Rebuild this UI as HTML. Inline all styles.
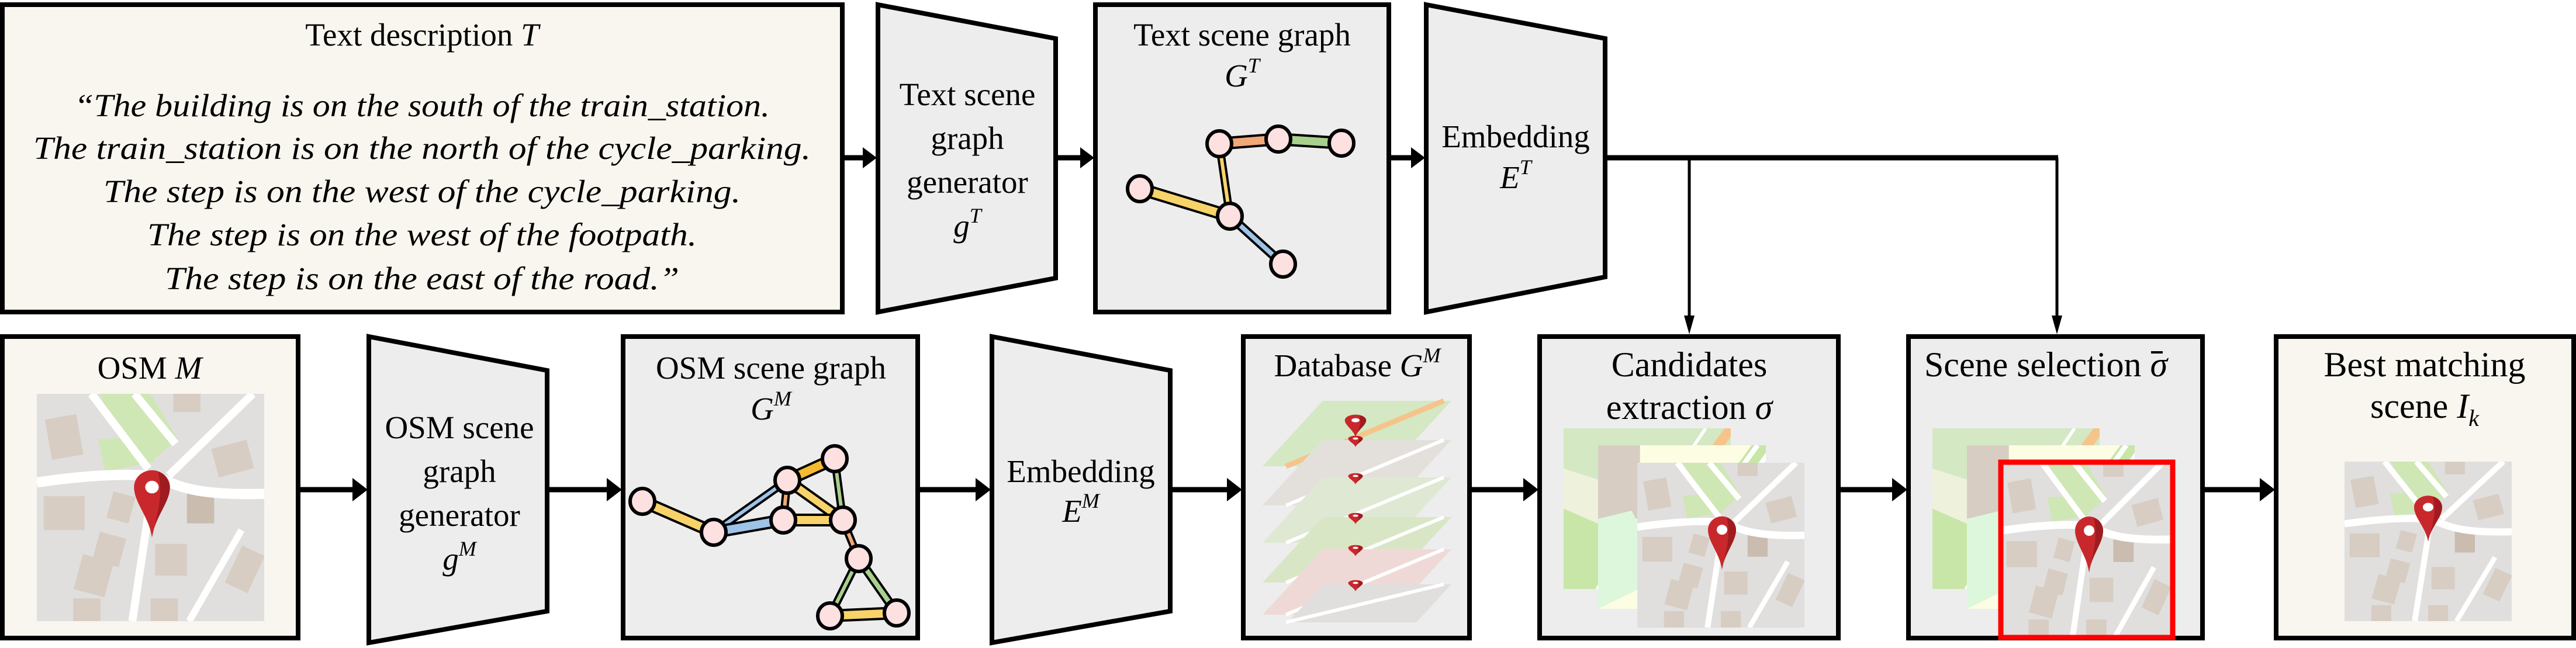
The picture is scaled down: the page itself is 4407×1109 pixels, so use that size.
<!DOCTYPE html>
<html><head><meta charset="utf-8"><style>
html,body{margin:0;padding:0;background:#fff;}
svg{display:block;}
text{font-family:"Liberation Serif",serif;fill:#000;}
</style></head><body>
<svg id="fig" width="4407" height="1109" viewBox="0 0 4407 1109">
<defs>
<symbol id="mapGray" viewBox="0 0 100 100" preserveAspectRatio="none">
<rect width="100" height="100" fill="#e0dfde"/>
<polygon points="28,0 50,0 62,20 50,30 34,16" fill="#cfe7b4"/>
<polygon points="27,20 42,19 52,30 30,34" fill="#cfe7b4"/>
<rect x="5" y="10" width="14" height="18" fill="#d8cdc3" transform="rotate(-10 12 19)"/>
<rect x="78" y="22" width="16" height="13" fill="#d8cdc3" transform="rotate(-15 86 28)"/>
<rect x="3" y="45" width="18" height="15" fill="#d8cdc3"/>
<rect x="32" y="44" width="10" height="12" fill="#d8cdc3" transform="rotate(15 37 50)"/>
<rect x="26" y="62" width="12" height="13" fill="#d8cdc3" transform="rotate(15 32 68)"/>
<rect x="18" y="72" width="14" height="16" fill="#d8cdc3" transform="rotate(15 25 80)"/>
<rect x="52" y="66" width="14" height="14" fill="#d8cdc3"/>
<rect x="66" y="42" width="12" height="15" fill="#cbbcb0"/>
<rect x="86" y="68" width="11" height="18" fill="#d8cdc3" transform="rotate(25 91 77)"/>
<rect x="60" y="0" width="12" height="8" fill="#d8cdc3"/>
<rect x="16" y="90" width="12" height="10" fill="#d8cdc3"/>
<rect x="50" y="90" width="12" height="10" fill="#d8cdc3"/>
<path d="M24,0 L49,33 M43,0 L61,22 M95,0 L58,36" stroke="#fff" stroke-width="3.5" fill="none"/>
<path d="M0,39 C20,36 38,35 50,36 C60,38 62,45 100,44" stroke="#fff" stroke-width="4.5" fill="none"/>
<path d="M51,40 L42,100" stroke="#fff" stroke-width="3.5" fill="none"/>
<path d="M90,60 L67,100" stroke="#fff" stroke-width="3" fill="none"/>
</symbol>
<symbol id="mapGreen" viewBox="0 0 100 100" preserveAspectRatio="none">
<rect width="100" height="100" fill="#d3e8c3"/>
<polygon points="0,25 60,45 60,100 0,100" fill="#eef1dc"/>
<polygon points="0,50 55,75 55,100 0,100" fill="#c8e6a8"/>
<path d="M100,0 L30,100" stroke="#f6c48a" stroke-width="6" fill="none"/>
<path d="M85,0 L20,100" stroke="#fff" stroke-width="2" fill="none"/>
</symbol>
<symbol id="mapMid" viewBox="0 0 100 100" preserveAspectRatio="none">
<rect width="100" height="100" fill="#fdfde4"/>
<rect x="0" y="0" width="25" height="45" fill="#d8cdc3"/>
<polygon points="0,45 20,40 40,80 0,100" fill="#ddf7dc"/>
<path d="M100,0 L30,100" stroke="#c8e6a8" stroke-width="14" fill="none"/>
<path d="M95,0 L25,100 M105,0 L35,100" stroke="#fff" stroke-width="3" fill="none"/>
</symbol>
<symbol id="pin" viewBox="-25 -100 50 100" preserveAspectRatio="none">
<path d="M0,0 C-4,-30 -24,-50 -24,-72 A24,24 0 1 1 24,-72 C24,-50 4,-30 0,0 Z" fill="#c8282c"/>
<path d="M0,0 C4,-30 24,-50 24,-72 A24,24 0 0 0 8,-94 C16,-60 6,-30 0,0Z" fill="#9f1b1f"/>
<circle cx="0" cy="-72" r="9" fill="#fff"/>
</symbol>
</defs>

<!-- TOP ROW -->
<g>
<rect x="4" y="8" width="1437" height="526" fill="#f8f6ef" stroke="#000" stroke-width="8"/>
<text x="722" y="78" font-size="55" text-anchor="middle">Text description <tspan font-style="italic">T</tspan></text>
<g font-style="italic" font-size="55" text-anchor="middle">
<text x="722" y="199" textLength="1190" lengthAdjust="spacingAndGlyphs">“The building is on the south of the train_station.</text>
<text x="722" y="272" textLength="1330" lengthAdjust="spacingAndGlyphs">The train_station is on the north of the cycle_parking.</text>
<text x="722" y="346" textLength="1090" lengthAdjust="spacingAndGlyphs">The step is on the west of the cycle_parking.</text>
<text x="722" y="420" textLength="940" lengthAdjust="spacingAndGlyphs">The step is on the west of the footpath.</text>
<text x="722" y="495" textLength="880" lengthAdjust="spacingAndGlyphs">The step is on the east of the road.”</text>
</g>
</g>

<g>
<polygon points="1502,8 1806,66 1806,476 1502,534" fill="#ededed" stroke="#000" stroke-width="8" stroke-linejoin="miter"/>
<g font-size="55" text-anchor="middle">
<text x="1655" y="180">Text scene</text>
<text x="1655" y="255">graph</text>
<text x="1655" y="330">generator</text>
<text x="1655" y="405" font-style="italic">g<tspan font-size="36" dy="-24">T</tspan></text>
</g>
</g>

<g>
<rect x="1874" y="8" width="502" height="526" fill="#ededed" stroke="#000" stroke-width="8"/>
<text x="2125" y="78" font-size="55" text-anchor="middle">Text scene graph</text>
<text x="2125" y="148" font-size="55" text-anchor="middle" font-style="italic">G<tspan font-size="36" dy="-24">T</tspan></text>
<g id="tgraph"></g>
</g>

<g>
<polygon points="2440,8 2746,66 2746,474 2440,534" fill="#ededed" stroke="#000" stroke-width="8"/>
<text x="2593" y="252" font-size="55" text-anchor="middle">Embedding</text>
<text x="2593" y="322" font-size="55" text-anchor="middle" font-style="italic">E<tspan font-size="36" dy="-24">T</tspan></text>
</g>

<!-- top arrows -->
<g>
<g stroke="#000" fill="none">
<line x1="1445" y1="270" x2="1480" y2="270" stroke-width="9"/>
<line x1="1810" y1="270" x2="1852" y2="270" stroke-width="9"/>
<line x1="2380" y1="270" x2="2418" y2="270" stroke-width="9"/>
<line x1="2750" y1="270" x2="3521" y2="270" stroke-width="9"/>
<line x1="2890" y1="270" x2="2890" y2="545" stroke-width="5"/>
<line x1="3519" y1="270" x2="3519" y2="545" stroke-width="5"/>
</g>
<g fill="#000">
<polygon points="1476,252 1500,270 1476,288"/>
<polygon points="1848,252 1872,270 1848,288"/>
<polygon points="2414,252 2438,270 2414,288"/>
<polygon points="2881,540 2899,540 2890,572"/>
<polygon points="3510,540 3528,540 3519,572"/>
</g>
</g>

<!-- BOTTOM ROW -->
<g>
<rect x="4" y="576" width="506" height="516" fill="#f8f6ef" stroke="#000" stroke-width="8"/>
<text x="256" y="648" font-size="55" text-anchor="middle">OSM <tspan font-style="italic">M</tspan></text>
<use href="#mapGray" x="63" y="674" width="389" height="389"/>
<use href="#pin" x="228" y="800" width="64" height="120"/>
</g>

<g>
<polygon points="631,576 936,634 936,1046 631,1100" fill="#ededed" stroke="#000" stroke-width="8"/>
<g font-size="55" text-anchor="middle">
<text x="786" y="750">OSM scene</text>
<text x="786" y="825">graph</text>
<text x="786" y="900">generator</text>
<text x="786" y="975" font-style="italic">g<tspan font-size="36" dy="-24">M</tspan></text>
</g>
</g>

<g>
<rect x="1066" y="576" width="504" height="516" fill="#ededed" stroke="#000" stroke-width="8"/>
<text x="1319" y="648" font-size="55" text-anchor="middle">OSM scene graph</text>
<text x="1319" y="718" font-size="55" text-anchor="middle" font-style="italic">G<tspan font-size="36" dy="-24">M</tspan></text>
<g id="ograph"></g>
</g>

<g>
<polygon points="1697,576 2002,634 2002,1046 1697,1100" fill="#ededed" stroke="#000" stroke-width="8"/>
<text x="1849" y="825" font-size="55" text-anchor="middle">Embedding</text>
<text x="1849" y="893" font-size="55" text-anchor="middle" font-style="italic">E<tspan font-size="36" dy="-24">M</tspan></text>
</g>

<g>
<rect x="2127" y="576" width="387" height="516" fill="#ededed" stroke="#000" stroke-width="8"/>
<text x="2322" y="644" font-size="55" text-anchor="middle">Database <tspan font-style="italic">G</tspan><tspan font-size="36" dy="-24" font-style="italic">M</tspan></text>
<g id="layers"></g>
</g>

<g>
<rect x="2634" y="576" width="511" height="516" fill="#ededed" stroke="#000" stroke-width="8"/>
<text x="2890" y="644" font-size="60" text-anchor="middle">Candidates</text>
<text x="2890" y="717" font-size="60" text-anchor="middle">extraction <tspan font-style="italic">σ</tspan></text>
<use href="#mapGreen" x="2675" y="733" width="286" height="275"/>
<use href="#mapMid" x="2734" y="762" width="287" height="280"/>
<use href="#mapGray" x="2801" y="792" width="286" height="282"/>
<use href="#pin" x="2921" y="880" width="50" height="95"/>
</g>

<g>
<rect x="3265" y="576" width="503" height="516" fill="#ededed" stroke="#000" stroke-width="8"/>
<text x="3500" y="644" font-size="60" text-anchor="middle">Scene selection <tspan font-style="italic">σ</tspan></text>
<line x1="3680" y1="603" x2="3700" y2="603" stroke="#000" stroke-width="4"/>
<use href="#mapGreen" x="3306" y="733" width="286" height="275"/>
<use href="#mapMid" x="3365" y="762" width="287" height="280"/>
<use href="#mapGray" x="3424" y="792" width="290" height="298"/>
<use href="#pin" x="3549" y="880" width="50" height="100"/>
<rect x="3423" y="791" width="294" height="300" fill="none" stroke="#ff0000" stroke-width="9"/>
</g>

<g>
<rect x="3894" y="576" width="509" height="516" fill="#f8f6ef" stroke="#000" stroke-width="8"/>
<text x="4148" y="644" font-size="60" text-anchor="middle">Best matching</text>
<text x="4148" y="715" font-size="60" text-anchor="middle">scene <tspan font-style="italic">I</tspan><tspan font-style="italic" font-size="40" dy="14">k</tspan></text>
<use href="#mapGray" x="4011" y="790" width="286" height="273"/>
<use href="#pin" x="4129" y="845" width="50" height="82"/>
</g>

<!-- bottom arrows -->
<g>
<g stroke="#000" fill="none" stroke-width="9">
<line x1="512" y1="838" x2="605" y2="838"/>
<line x1="940" y1="838" x2="1040" y2="838"/>
<line x1="1574" y1="838" x2="1671" y2="838"/>
<line x1="2006" y1="838" x2="2101" y2="838"/>
<line x1="2518" y1="838" x2="2608" y2="838"/>
<line x1="3149" y1="838" x2="3239" y2="838"/>
<line x1="3772" y1="838" x2="3868" y2="838"/>
</g>
<g fill="#000">
<polygon points="603,818 629,838 603,858"/>
<polygon points="1038,818 1064,838 1038,858"/>
<polygon points="1669,818 1695,838 1669,858"/>
<polygon points="2099,818 2125,838 2099,858"/>
<polygon points="2606,818 2632,838 2606,858"/>
<polygon points="3237,818 3263,838 3237,858"/>
<polygon points="3866,818 3892,838 3866,858"/>
</g>
</g>
</svg>
<script>
const NS='http://www.w3.org/2000/svg';
// text scene graph
const tNodes=[[2086,246],[2187,238],[2295,245],[1950,323],[2104,370],[2195,452]];
const tEdges=[[0,1,'#f0a878',14],[1,2,'#a8d08d',14],[0,4,'#f7d36a',6],[3,4,'#f7d36a',14],[4,5,'#9dc3e6',8]];
// OSM scene graph
const oNodes=[[1428,785],[1347,822],[1099,858],[1340,890],[1442,890],[1221,911],[1469,956],[1420,1054],[1534,1049]];
const oEdges=[[0,1,'#f6b92f',14],[0,4,'#a8d08d',6],[1,5,'#9dc3e6',6],[1,3,'#f0a878',6],[1,4,'#f7d36a',12],[2,5,'#f7d36a',14],[5,3,'#9dc3e6',14],[3,4,'#f7d36a',14],[4,6,'#f0a878',6],[6,7,'#a8d08d',6],[6,8,'#a8d08d',8],[7,8,'#f7d36a',14]];
function drawGraph(gid,nodes,edges,rx,ry){
  const g=document.getElementById(gid);
  edges.forEach(e=>{
    const a=nodes[e[0]],b=nodes[e[1]];
    const o=document.createElementNS(NS,'line');
    o.setAttribute('x1',a[0]);o.setAttribute('y1',a[1]);o.setAttribute('x2',b[0]);o.setAttribute('y2',b[1]);
    o.setAttribute('stroke','#000');o.setAttribute('stroke-width',e[3]+8);
    
    
    g.appendChild(o);
    const l=document.createElementNS(NS,'line');
    l.setAttribute('x1',a[0]);l.setAttribute('y1',a[1]);l.setAttribute('x2',b[0]);l.setAttribute('y2',b[1]);
    l.setAttribute('stroke',e[2]);l.setAttribute('stroke-width',e[3]);
    
    
    g.appendChild(l);
  });
  nodes.forEach(n=>{
    const c=document.createElementNS(NS,'ellipse');
    c.setAttribute('cx',n[0]);c.setAttribute('cy',n[1]);c.setAttribute('rx',rx);c.setAttribute('ry',ry);
    c.setAttribute('fill','#fde0e0');c.setAttribute('stroke','#000');c.setAttribute('stroke-width',6);
    
    
    g.appendChild(c);
  });
}
drawGraph('tgraph',tNodes,tEdges,21,22);
drawGraph('ograph',oNodes,oEdges,21,22);
// database layers
const layerTops=[686,753,817,885,940,1000];
const layerFills=['#d3e8c3','#e3e0dc','#dfe8d2','#d9e6c6','#efd9d6','#e0dfde'];
const lg=document.getElementById('layers');
layerTops.forEach((t,i)=>{
  const h=(i===layerTops.length-1)?65:112;
  const s=103*h/112;
  const p=document.createElementNS(NS,'polygon');
  p.setAttribute('points',[[2263,t],[2483,t],[2483-s,t+h],[2263-s,t+h]].map(q=>q.join(',')).join(' '));
  p.setAttribute('fill',layerFills[i]);
  
  
  lg.appendChild(p);
  const r=document.createElementNS(NS,'line');
  r.setAttribute('x1',2470);r.setAttribute('y1',t);r.setAttribute('x2',2200);r.setAttribute('y2',t+h);
  r.setAttribute('stroke',i===0?'#f6c48a':'#fff');r.setAttribute('stroke-width',i===0?9:6);
  
  
  lg.appendChild(r);
  const pin=document.createElementNS(NS,'use');
  pin.setAttribute('href','#pin');
  if(i===0){pin.setAttribute('x',2300);pin.setAttribute('y',708);pin.setAttribute('width',38);pin.setAttribute('height',40);}
  else{pin.setAttribute('x',2306);pin.setAttribute('y',t-8);pin.setAttribute('width',26);pin.setAttribute('height',20);}
  
  
  lg.appendChild(pin);
});
</script>
</body></html>
